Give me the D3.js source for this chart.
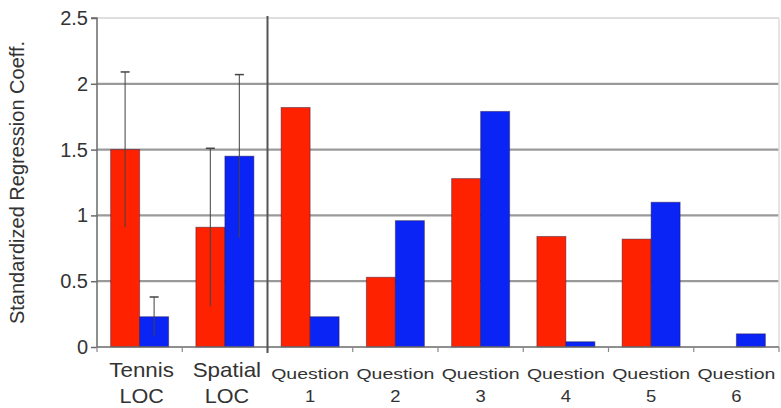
<!DOCTYPE html>
<html>
<head>
<meta charset="utf-8">
<script src="https://cdn.jsdelivr.net/npm/d3@7"></script>
<style>
  html, body { margin: 0; padding: 0; background: #fff; }
  svg { display: block; font-family: "Liberation Sans", Arial, sans-serif; }
</style>
</head>
<body>
<svg id="chart" width="781" height="408"></svg>
<script>
const categories = ["Tennis|LOC", "Spatial|LOC", "Question|1", "Question|2", "Question|3", "Question|4", "Question|5", "Question|6"];
const redValues  = [1.50, 0.91, 1.82, 0.53, 1.28, 0.84, 0.82, 0];
const blueValues = [0.23, 1.45, 0.23, 0.96, 1.79, 0.04, 1.10, 0.10];
const redErr  = [0.59, 0.60, null, null, null, null, null, null];
const blueErr = [0.15, 0.62, null, null, null, null, null, null];
const yTicks = [0, 0.5, 1, 1.5, 2, 2.5];
const yTickLabels = ["0", "0.5", "1", "1.5", "2", "2.5"];
const yTitle = "Standardized Regression Coeff.";

const svg = d3.select("#chart");
const L = 97, R = 779, T = 18, B = 347;

const x = d3.scaleBand().domain(categories).range([L, R]).padding(0);
const y = d3.scaleLinear().domain([0, 2.5]).range([B, T]);
const bw = x.bandwidth();
const barW = 29;
const x1 = d3.scaleBand().domain(["red", "blue"]).range([bw / 2 - barW, bw / 2 + barW]).padding(0);

// gridlines
svg.append("g").selectAll("line").data(yTicks.filter(d => d > 0)).join("line")
  .attr("x1", L).attr("x2", R)
  .attr("y1", d => y(d)).attr("y2", d => y(d))
  .attr("stroke", d => d === 2.5 ? "#d4d4d4" : "#9a9a9a")
  .attr("stroke-width", d => d === 2.5 ? 1.5 : 2.2);

// right light border
svg.append("line").attr("x1", R).attr("x2", R).attr("y1", T).attr("y2", B)
  .attr("stroke", "#dcdcdc").attr("stroke-width", 1.5);

// bars
const series = [
  { key: "red", values: redValues, err: redErr, color: "#ff2200" },
  { key: "blue", values: blueValues, err: blueErr, color: "#0a24f5" }
];
series.forEach(s => {
  svg.append("g").selectAll("rect").data(categories).join("rect")
    .attr("x", d => x(d) + x1(s.key))
    .attr("width", x1.bandwidth())
    .attr("y", (d, i) => y(s.values[i]))
    .attr("height", (d, i) => B - y(s.values[i]))
    .attr("fill", s.color)
    .attr("stroke", (d, i) => s.values[i] > 0 ? "rgba(40,20,60,0.45)" : "none")
    .attr("stroke-width", 1);
});

// error bars
series.forEach(s => {
  const g = svg.append("g");
  categories.forEach((c, i) => {
    if (s.err[i] == null) return;
    const cx = x(c) + x1(s.key) + x1.bandwidth() / 2;
    const v = s.values[i], e = s.err[i];
    g.append("line").attr("x1", cx).attr("x2", cx)
      .attr("y1", y(v + e)).attr("y2", y(v - e))
      .attr("stroke", "#444").attr("stroke-width", 1.2).attr("opacity", 0.85);
    g.append("line").attr("x1", cx - 4.5).attr("x2", cx + 4.5)
      .attr("y1", y(v + e)).attr("y2", y(v + e))
      .attr("stroke", "#444").attr("stroke-width", 1.5);
  });
});

// y axis
const yAxis = d3.axisLeft(y).tickValues(yTicks).tickFormat((d, i) => yTickLabels[i]).tickSize(6).tickPadding(3);
const gy = svg.append("g").attr("transform", `translate(${L},0)`).call(yAxis);
gy.select(".domain").attr("stroke", "#6a6a6a").attr("stroke-width", 1.5).attr("d", `M-6,${T}H0V${B}`);
gy.selectAll(".tick line").attr("stroke", "#6a6a6a").attr("stroke-width", 1.5);
gy.selectAll(".tick text").attr("font-size", 20).attr("fill", "#333")
  .attr("font-family", "Liberation Sans, Arial, sans-serif");

// x axis baseline and ticks at band boundaries
svg.append("line").attr("x1", L).attr("x2", R).attr("y1", B).attr("y2", B)
  .attr("stroke", "#6a6a6a").attr("stroke-width", 1.5);
const bounds = categories.map(c => x(c)).concat([R]);
svg.append("g").selectAll("line").data(bounds).join("line")
  .attr("x1", d => d).attr("x2", d => d)
  .attr("y1", B).attr("y2", B + 5)
  .attr("stroke", "#8a8a8a").attr("stroke-width", 1.2);

// divider between LOC and Questions
const divX = x(categories[2]);
svg.append("line").attr("x1", divX).attr("x2", divX).attr("y1", T - 2).attr("y2", B + 6)
  .attr("stroke", "#555").attr("stroke-width", 2);

// category labels
categories.forEach((c, i) => {
  const [a, b] = c.split("|");
  const cx = x(c) + bw / 2;
  const isQ = a === "Question";
  const g = svg.append("g").attr("fill", "#333");
  if (isQ) {
    g.append("text").attr("transform", `translate(${cx},379) scale(1.3,1)`)
      .attr("text-anchor", "middle").attr("font-size", 15).text(a);
    g.append("text").attr("transform", `translate(${cx},402) scale(1.15,1)`)
      .attr("text-anchor", "middle").attr("font-size", 16).text(b);
  } else {
    g.append("text").attr("transform", `translate(${cx + 2},377) scale(1.12,1)`)
      .attr("text-anchor", "middle").attr("font-size", 20).text(a);
    g.append("text").attr("transform", `translate(${cx + 2},403) scale(1.08,1)`)
      .attr("text-anchor", "middle").attr("font-size", 20).text(b);
  }
});

// y title
svg.append("text")
  .attr("transform", `translate(24,${(T + B) / 2}) rotate(-90)`)
  .attr("text-anchor", "middle").attr("font-size", 20).attr("fill", "#333")
  .text(yTitle);
</script>
</body>
</html>
